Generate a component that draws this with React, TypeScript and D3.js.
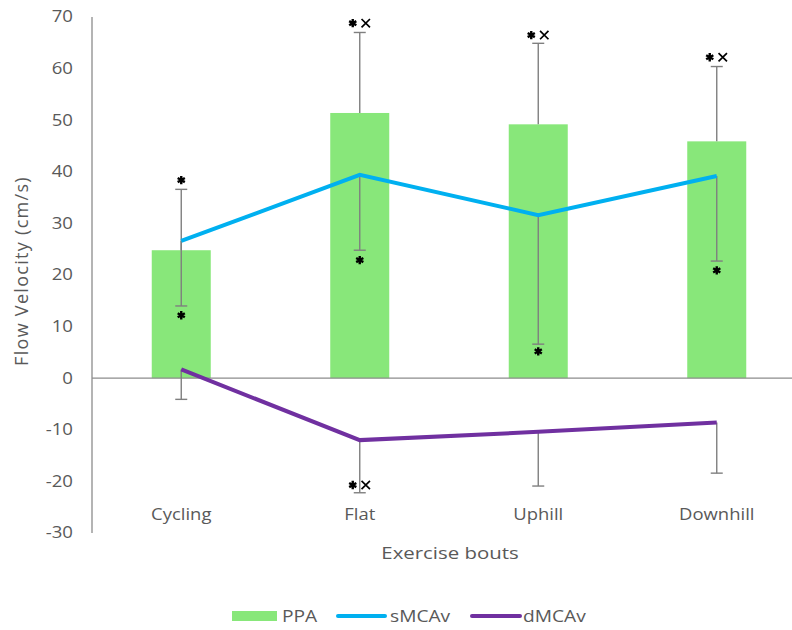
import React from "react";
import * as d3 from "d3";

const categories = ["Cycling", "Flat", "Uphill", "Downhill"];
const ppa = [24.8, 51.4, 49.2, 45.9];
const ppaErrPlus = [11.8, 15.6, 15.7, 14.5];
const smcav = [26.6, 39.4, 31.6, 39.2];
const smcavErrMinus = [12.6, 14.6, 25.0, 16.5];
const dmcav = [1.7, -12.0, -10.4, -8.6];
const dmcavErrMinus = [5.8, 10.2, 10.5, 9.8];
const yTicks = [-30, -20, -10, 0, 10, 20, 30, 40, 50, 60, 70];
// significance markers: category, value where drawn, symbols
const marks = [
  { cat: "Cycling", v: 38.4, s: ["*"] },
  { cat: "Cycling", v: 12.2, s: ["*"] },
  { cat: "Flat", v: 68.8, s: ["*", "x"] },
  { cat: "Flat", v: 22.9, s: ["*"] },
  { cat: "Flat", v: -20.7, s: ["*", "x"] },
  { cat: "Uphill", v: 66.5, s: ["*", "x"] },
  { cat: "Uphill", v: 5.2, s: ["*"] },
  { cat: "Downhill", v: 62.2, s: ["*", "x"] },
  { cat: "Downhill", v: 20.9, s: ["*"] },
];

const FONT = "'Open Sans', 'Liberation Sans', sans-serif";
const GRAY = "#595959";
const GREEN = "#88E77A";
const BLUE = "#00B0F0";
const PURPLE = "#7030A0";
const ERR = "#7F7F7F";

function T(props: { x: number; y: number; size: number; sx: number; anchor?: string; children: any; ls?: number }) {
  const { x, y, size, sx, anchor = "start", children, ls = 0 } = props;
  return (
    <text
      transform={`translate(${x},${y}) scale(${sx},1)`}
      dy="0.35em"
      textAnchor={anchor}
      fontFamily={FONT}
      fontSize={size}
      fill={GRAY}
      letterSpacing={ls}
    >
      {children}
    </text>
  );
}

export default function App() {
  const W = 792, H = 630;
  const x = d3.scaleBand().domain(categories).range([92, 806]).paddingInner(0.66).paddingOuter(0.33);
  const y = d3.scaleLinear().domain([-30, 70]).range([533, 17]);
  const cx = (c: string) => (x(c) as number) + x.bandwidth() / 2;
  const barW = 59;
  const lineGen = d3.line<number>().x((_, i) => cx(categories[i])).y((d) => y(d));
  const ast = d3.symbol().type(d3.symbolAsterisk).size(48)()!;
  const times = d3.symbol().type(d3.symbolTimes).size(48)()!;

  return (
    <svg width={W} height={H} style={{ position: "absolute", left: 0, top: 0, background: "#fff" }}>
      {/* bars */}
      {categories.map((c, i) => (
        <rect key={c} x={cx(c) - barW / 2} y={y(ppa[i])} width={barW} height={y(0) - y(ppa[i])} fill={GREEN} />
      ))}
      {/* axes */}
      <line x1={92} x2={92} y1={y(70)} y2={y(-30)} stroke="#8c8c8c" strokeWidth={1.3} />
      <line x1={92} x2={806} y1={y(0)} y2={y(0)} stroke="#8c8c8c" strokeWidth={1.3} />
      {yTicks.map((t) => (
        <T key={t} x={73} y={y(t)} size={15.5} sx={1.2} anchor="end">
          {t}
        </T>
      ))}
      {/* error bars */}
      {categories.map((c, i) => {
        const X = cx(c);
        const segs = [
          [ppa[i], ppa[i] + ppaErrPlus[i]],
          [smcav[i], smcav[i] - smcavErrMinus[i]],
          [dmcav[i], dmcav[i] - dmcavErrMinus[i]],
        ];
        return (
          <g key={c} stroke={ERR} strokeWidth={1.4}>
            {segs.map(([a, b], k) => (
              <g key={k}>
                <line x1={X} x2={X} y1={y(a)} y2={y(b)} />
                <line x1={X - 6} x2={X + 6} y1={y(b)} y2={y(b)} />
              </g>
            ))}
          </g>
        );
      })}
      {/* lines */}
      <path d={lineGen(smcav)!} fill="none" stroke={BLUE} strokeWidth={4} />
      <path d={lineGen(dmcav)!} fill="none" stroke={PURPLE} strokeWidth={4} />
      {/* markers */}
      {marks.map((m, i) => {
        const X = cx(m.cat);
        const Y = y(m.v);
        if (m.s.length === 1) {
          return <path key={i} d={ast} transform={`translate(${X},${Y})`} stroke="#000" strokeWidth={2.4} fill="none" />;
        }
        return (
          <g key={i}>
            <path d={ast} transform={`translate(${X - 7},${Y})`} stroke="#000" strokeWidth={2.4} fill="none" />
            <path d={times} transform={`translate(${X + 6},${Y})`} stroke="#000" strokeWidth={1.7} fill="none" />
          </g>
        );
      })}
      {/* category labels */}
      {categories.map((c) => (
        <T key={c} x={cx(c)} y={514} size={16.5} sx={1.12} anchor="middle">
          {c}
        </T>
      ))}
      {/* axis titles */}
      <T x={450} y={553} size={17} sx={1.2} anchor="middle">
        Exercise bouts
      </T>
      <text
        transform={`translate(22,271) rotate(-90)`}
        dy="0.35em"
        textAnchor="middle"
        fontFamily={FONT}
        fontSize={18}
        letterSpacing={1.3}
        fill={GRAY}
      >
        Flow Velocity (cm/s)
      </text>
      {/* legend */}
      <rect x={232} y={611} width={45} height={10} fill={GREEN} />
      <T x={282} y={616} size={16} sx={1.2}>PPA</T>
      <line x1={338} x2={385} y1={616} y2={616} stroke={BLUE} strokeWidth={4} strokeLinecap="round" />
      <T x={390} y={616} size={16} sx={1.2}>sMCAv</T>
      <line x1={472} x2={520} y1={616} y2={616} stroke={PURPLE} strokeWidth={4} strokeLinecap="round" />
      <T x={523} y={616} size={16} sx={1.2}>dMCAv</T>
    </svg>
  );
}
